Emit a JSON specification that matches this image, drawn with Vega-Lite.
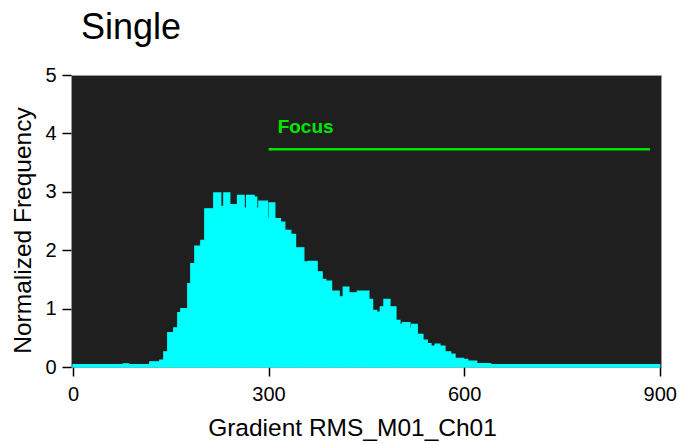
{
  "$schema": "https://vega.github.io/schema/vega-lite/v6.json",
  "autosize": {"type": "none"},
  "padding": {"left": 71, "top": 75, "right": 18, "bottom": 77},
  "width": 590,
  "height": 292,
  "background": "white",
  "title": {
    "text": "Single",
    "anchor": "start",
    "frame": "group",
    "dx": 10,
    "dy": 10,
    "offset": 0,
    "baseline": "alphabetic",
    "fontSize": 36,
    "font": "Liberation Sans",
    "fontWeight": "normal",
    "color": "black"
  },
  "config": {
    "view": {"fill": "#1f1f1f", "stroke": "#9a9a9a", "strokeWidth": 1},
    "axis": {
      "domain": false,
      "grid": false,
      "tickColor": "black",
      "tickWidth": 1.5,
      "tickSize": 9,
      "labelFont": "Liberation Sans",
      "labelFontSize": 20,
      "labelColor": "black",
      "titleFont": "Liberation Sans",
      "titleFontSize": 24.5,
      "titleFontWeight": "normal",
      "titleColor": "black"
    }
  },
  "datasets": {
    "hist": [
      {"x0": 0, "x1": 76.8, "freq": 0.04},
      {"x0": 76.8, "x1": 85.5, "freq": 0.055},
      {"x0": 85.5, "x1": 117.8, "freq": 0.04},
      {"x0": 117.8, "x1": 133.1, "freq": 0.09},
      {"x0": 133.1, "x1": 139.3, "freq": 0.12},
      {"x0": 139.3, "x1": 145.4, "freq": 0.26},
      {"x0": 145.4, "x1": 154.6, "freq": 0.59},
      {"x0": 154.6, "x1": 160.8, "freq": 0.67},
      {"x0": 160.8, "x1": 165.4, "freq": 0.93},
      {"x0": 165.4, "x1": 176.1, "freq": 1.0},
      {"x0": 176.1, "x1": 180.7, "freq": 1.43},
      {"x0": 180.7, "x1": 186.9, "freq": 1.77},
      {"x0": 186.9, "x1": 196.1, "freq": 2.07},
      {"x0": 196.1, "x1": 202.2, "freq": 2.17},
      {"x0": 202.2, "x1": 216.0, "freq": 2.71},
      {"x0": 216.0, "x1": 226.8, "freq": 2.98},
      {"x0": 226.8, "x1": 231.4, "freq": 2.75},
      {"x0": 231.4, "x1": 240.6, "freq": 2.98},
      {"x0": 240.6, "x1": 252.4, "freq": 2.78},
      {"x0": 252.4, "x1": 262.6, "freq": 2.94},
      {"x0": 262.6, "x1": 266.2, "freq": 2.72},
      {"x0": 266.2, "x1": 277.9, "freq": 2.94},
      {"x0": 277.9, "x1": 282.0, "freq": 2.91},
      {"x0": 282.0, "x1": 285.1, "freq": 2.72},
      {"x0": 285.1, "x1": 298.5, "freq": 2.84},
      {"x0": 298.5, "x1": 300.9, "freq": 2.55},
      {"x0": 300.9, "x1": 309.7, "freq": 2.81},
      {"x0": 309.7, "x1": 318.4, "freq": 2.54},
      {"x0": 318.4, "x1": 325.0, "freq": 2.48},
      {"x0": 325.0, "x1": 334.3, "freq": 2.34},
      {"x0": 334.3, "x1": 341.5, "freq": 2.27},
      {"x0": 341.5, "x1": 354.2, "freq": 2.04},
      {"x0": 354.2, "x1": 360.8, "freq": 1.80},
      {"x0": 360.8, "x1": 374.6, "freq": 1.81},
      {"x0": 374.6, "x1": 382.3, "freq": 1.63},
      {"x0": 382.3, "x1": 388.0, "freq": 1.50},
      {"x0": 388.0, "x1": 396.7, "freq": 1.47},
      {"x0": 396.7, "x1": 408.4, "freq": 1.30},
      {"x0": 408.4, "x1": 414.5, "freq": 1.20},
      {"x0": 414.5, "x1": 423.3, "freq": 1.37},
      {"x0": 423.3, "x1": 436.0, "freq": 1.27},
      {"x0": 436.0, "x1": 454.0, "freq": 1.30},
      {"x0": 454.0, "x1": 459.7, "freq": 1.16},
      {"x0": 459.7, "x1": 465.8, "freq": 0.97},
      {"x0": 465.8, "x1": 471.4, "freq": 0.94},
      {"x0": 471.4, "x1": 477.0, "freq": 1.03},
      {"x0": 477.0, "x1": 486.3, "freq": 1.16},
      {"x0": 486.3, "x1": 495.5, "freq": 1.03},
      {"x0": 495.5, "x1": 501.6, "freq": 0.80},
      {"x0": 501.6, "x1": 505.1, "freq": 0.73},
      {"x0": 505.1, "x1": 517.0, "freq": 0.76},
      {"x0": 517.0, "x1": 519.6, "freq": 0.66},
      {"x0": 519.6, "x1": 528.2, "freq": 0.73},
      {"x0": 528.2, "x1": 536.9, "freq": 0.56},
      {"x0": 536.9, "x1": 543.5, "freq": 0.46},
      {"x0": 543.5, "x1": 549.2, "freq": 0.40},
      {"x0": 549.2, "x1": 555.4, "freq": 0.36},
      {"x0": 555.4, "x1": 563.0, "freq": 0.39},
      {"x0": 563.0, "x1": 570.7, "freq": 0.36},
      {"x0": 570.7, "x1": 579.5, "freq": 0.26},
      {"x0": 579.5, "x1": 586.1, "freq": 0.22},
      {"x0": 586.1, "x1": 598.8, "freq": 0.15},
      {"x0": 598.8, "x1": 605.6, "freq": 0.13},
      {"x0": 605.6, "x1": 619.4, "freq": 0.10},
      {"x0": 619.4, "x1": 640.9, "freq": 0.06},
      {"x0": 640.9, "x1": 900, "freq": 0.04}
    ],
    "focus": [
      {"start": 300, "end": 885, "level": 3.73, "label": "Focus", "lx": 314, "ly": 4.01}
    ]
  },
  "layer": [
    {
      "data": {"name": "hist"},
      "mark": {"type": "rect", "fill": "#00ffff", "stroke": "#00ffff", "strokeWidth": 1.2, "strokeOpacity": 1, "fillOpacity": 1},
      "encoding": {
        "x": {
          "field": "x0",
          "type": "quantitative",
          "scale": {"domain": [-3, 902], "nice": false, "zero": false},
          "axis": {"values": [0, 300, 600, 900], "title": "Gradient RMS_M01_Ch01", "labelPadding": 8, "titlePadding": 12, "titleX": 281, "titleAlign": "center"}
        },
        "x2": {"field": "x1"},
        "y": {
          "field": "freq",
          "type": "quantitative",
          "scale": {"domain": [0, 5], "nice": false},
          "axis": {"values": [0, 1, 2, 3, 4, 5], "format": "d", "title": "Normalized Frequency", "labelPadding": 6, "titlePadding": 9, "titleY": 155, "titleAlign": "center"}
        },
        "y2": {"datum": 0}
      }
    },
    {
      "data": {"name": "focus"},
      "mark": {"type": "rule", "color": "#00e600", "strokeWidth": 2.5},
      "encoding": {
        "x": {"field": "start", "type": "quantitative"},
        "x2": {"field": "end"},
        "y": {"field": "level", "type": "quantitative"}
      }
    },
    {
      "data": {"name": "focus"},
      "mark": {"type": "text", "color": "#00e600", "font": "Liberation Sans", "fontSize": 19, "fontWeight": "bold", "align": "left", "baseline": "alphabetic"},
      "encoding": {
        "x": {"field": "lx", "type": "quantitative"},
        "y": {"field": "ly", "type": "quantitative"},
        "text": {"field": "label"}
      }
    }
  ]
}
